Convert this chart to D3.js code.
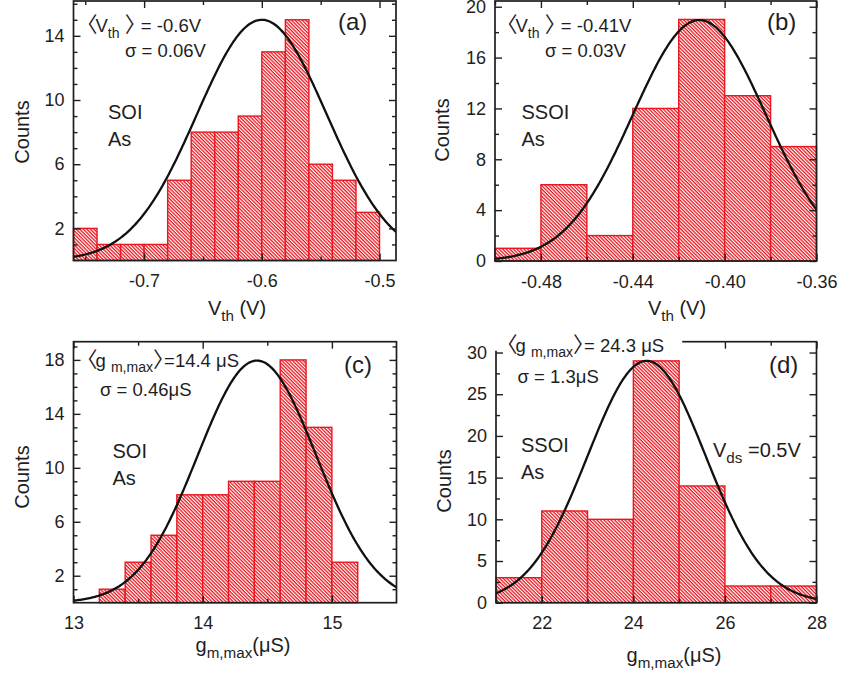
<!DOCTYPE html>
<html>
<head>
<meta charset="utf-8">
<script src="https://cdn.jsdelivr.net/npm/d3@7"></script>
<style>
  body { margin: 0; background: #fff; }
  svg { display: block; font-family: "Liberation Sans", Arial, "DejaVu Sans", sans-serif; }
</style>
</head>
<body>
<svg id="chart" width="845" height="676"></svg>
<script>
// ---- Histogram data: left bin edges and counts ----
const vthSoiBins   = [-0.76, -0.74, -0.72, -0.70, -0.68, -0.66, -0.64, -0.62, -0.60, -0.58, -0.56, -0.54, -0.52];
const vthSoiCounts = [2, 1, 1, 1, 5, 8, 8, 9, 13, 15, 6, 5, 3];
const vthSsoiBins   = [-0.50, -0.48, -0.46, -0.44, -0.42, -0.40, -0.38];
const vthSsoiCounts = [1, 6, 2, 12, 19, 13, 9];
const gmSoiBins   = [13.2, 13.4, 13.6, 13.8, 14.0, 14.2, 14.4, 14.6, 14.8, 15.0];
const gmSoiCounts = [1, 3, 5, 8, 8, 9, 9, 18, 13, 3];
const gmSsoiBins   = [21, 22, 23, 24, 25, 26, 27];
const gmSsoiCounts = [3, 11, 10, 29, 14, 2, 2];

// ---- Gaussian fits: [mean, sigma, peak count] ----
const vthSoiFit  = [-0.6, 0.0552, 15];
const vthSsoiFit = [-0.411, 0.029, 18.95];
const gmSoiFit   = [14.42, 0.46, 17.95];
const gmSsoiFit  = [24.29, 1.29, 29];

// ---- Tick values ----
const vthSoiXMajor  = [-0.7, -0.6, -0.5];
const vthSoiXMinor  = [-0.75, -0.65, -0.55];
const vthSoiYMajor  = [2, 6, 10, 14];
const vthSoiYMinor  = [1, 3, 4, 5, 7, 8, 9, 11, 12, 13, 15, 16];
const vthSsoiXMajor = [-0.48, -0.44, -0.40, -0.36];
const vthSsoiXMinor = [-0.50, -0.46, -0.42, -0.38];
const vthSsoiYMajor = [0, 4, 8, 12, 16, 20];
const vthSsoiYMinor = [2, 6, 10, 14, 18];
const gmSoiXMajor   = [13, 14, 15];
const gmSoiXMinor   = [13.5, 14.5];
const gmSoiYMajor   = [2, 6, 10, 14, 18];
const gmSoiYMinor   = [1, 3, 4, 5, 7, 8, 9, 11, 12, 13, 15, 16, 17, 19];
const gmSsoiXMajor  = [22, 24, 26, 28];
const gmSsoiXMinor  = [21, 23, 25, 27];
const gmSsoiYMajor  = [0, 5, 10, 15, 20, 25, 30];
const gmSsoiYMinor  = [2.5, 7.5, 12.5, 17.5, 22.5, 27.5];

const RED = "#e8161f";
const INK = "#1e1e1e";
const loc = d3.formatLocale({ decimal: ".", thousands: ",", grouping: [3], currency: ["", ""], minus: "-" });
const fmt = s => loc.format(s);

const svg = d3.select("#chart");
const defs = svg.append("defs");

// diagonal red hatching used to fill the bars
const pat = defs.append("pattern")
  .attr("id", "hatch")
  .attr("patternUnits", "userSpaceOnUse")
  .attr("width", 8).attr("height", 2.5)
  .attr("patternTransform", "rotate(45)");
pat.append("rect").attr("width", 8).attr("height", 2.5).attr("fill", "#fff");
pat.append("rect").attr("width", 8).attr("height", 1.3).attr("fill", RED);

// Text with subscripts and thin angle brackets.
// parts = [{t, sub, lb, rb}]; the full-width brackets get their advance trimmed with letter-spacing.
const BRACKET_SCALE = 1.15;
function rich(sel, parts, size) {
  let inSub = false;
  const bs = size * BRACKET_SCALE;
  parts.forEach(p => {
    const ts = sel.append("tspan").text(p.t);
    if (p.lb || p.rb) {
      ts.attr("font-size", bs)
        .attr("font-family", '"Noto Sans CJK JP", "Noto Sans CJK SC", sans-serif')
        .attr("letter-spacing", p.lb ? -bs * 0.1 : -bs * 0.48);
    }
    if (p.sub && !inSub) { ts.attr("font-size", size * 0.76).attr("dy", size * 0.3); inSub = true; }
    else if (p.sub) { ts.attr("font-size", size * 0.76); }
    else if (inSub) { ts.attr("dy", -size * 0.3); inSub = false; }
  });
  return sel;
}

function label(g, x, y, parts, size, anchor) {
  // a leading bracket carries blank space on its left; start the line that much earlier
  const lead = parts[0] && parts[0].lb ? size * BRACKET_SCALE * 0.55 : 0;
  const t = g.append("text")
    .attr("x", x - lead).attr("y", y)
    .attr("font-size", size)
    .attr("fill", INK)
    .attr("text-anchor", anchor || "start");
  return rich(t, parts, size);
}

const LB = "\u3008", RB = "\u3009";

const panels = [
  {
    id: "a", left: 73.5, right: 396, top: 1, bottom: 260.5,
    xDomain: [-0.76, -0.486], yDomain: [0, 16.17],
    bins: vthSoiBins, counts: vthSoiCounts, binWidth: 0.02, fit: vthSoiFit,
    xMajor: vthSoiXMajor, xMinor: vthSoiXMinor, yMajor: vthSoiYMajor, yMinor: vthSoiYMinor,
    xFmt: ".1f",
    meanParts: f => [{ t: LB, lb: true }, { t: "V" }, { t: "th", sub: true }, { t: " " }, { t: RB, rb: true }, { t: " = " + fmt(".1f")(f[0]) + "V" }],
    sigmaText: f => "\u03C3 = " + fmt(".2f")(f[1]) + "V",
    meanPos: [88, 32], sigmaPos: [125, 57], tagPos: [338, 30],
    matPos: [108, 119], mat: "SOI",
    xTitle: [{ t: "V" }, { t: "th", sub: true }, { t: " (V)" }], xTitlePos: [237, 315],
    yTitlePos: [28.5, 132]
  },
  {
    id: "b", left: 495, right: 816.5, top: 1, bottom: 261,
    xDomain: [-0.50, -0.36], yDomain: [0, 20.45],
    bins: vthSsoiBins, counts: vthSsoiCounts, binWidth: 0.02, fit: vthSsoiFit,
    xMajor: vthSsoiXMajor, xMinor: vthSsoiXMinor, yMajor: vthSsoiYMajor, yMinor: vthSsoiYMinor,
    xFmt: ".2f",
    meanParts: f => [{ t: LB, lb: true }, { t: "V" }, { t: "th", sub: true }, { t: " " }, { t: RB, rb: true }, { t: " = " + fmt(".2f")(f[0]) + "V" }],
    sigmaText: f => "\u03C3 = " + fmt(".2f")(f[1]) + "V",
    meanPos: [508, 32], sigmaPos: [545, 57], tagPos: [767, 30],
    matPos: [521.5, 119], mat: "SSOI",
    xTitle: [{ t: "V" }, { t: "th", sub: true }, { t: " (V)" }], xTitlePos: [677, 315],
    yTitlePos: [449, 130]
  },
  {
    id: "c", left: 73.5, right: 396.5, top: 341.7, bottom: 602.7,
    xDomain: [13, 15.5], yDomain: [0, 19.35],
    bins: gmSoiBins, counts: gmSoiCounts, binWidth: 0.2, fit: gmSoiFit,
    xMajor: gmSoiXMajor, xMinor: gmSoiXMinor, yMajor: gmSoiYMajor, yMinor: gmSoiYMinor,
    xFmt: "d",
    meanParts: f => [{ t: LB, lb: true }, { t: "g " }, { t: "m,max", sub: true }, { t: RB, rb: true }, { t: "=" + fmt(".1f")(f[0]) + " \u03BCS" }],
    sigmaText: f => "\u03C3 = " + fmt(".2f")(f[1]) + "\u03BCS",
    meanPos: [88, 366.5], sigmaPos: [100, 396], tagPos: [344, 372.5],
    matPos: [112.5, 458], mat: "SOI",
    xTitle: [{ t: "g" }, { t: "m,max", sub: true }, { t: "(\u03BCS)" }], xTitlePos: [243, 652],
    yTitlePos: [28.5, 477]
  },
  {
    id: "d", left: 496, right: 816.5, top: 341.7, bottom: 602.7,
    xDomain: [21, 28], yDomain: [0, 31.3],
    bins: gmSsoiBins, counts: gmSsoiCounts, binWidth: 1, fit: gmSsoiFit,
    xMajor: gmSsoiXMajor, xMinor: gmSsoiXMinor, yMajor: gmSsoiYMajor, yMinor: gmSsoiYMinor,
    xFmt: "d",
    meanParts: f => [{ t: LB, lb: true }, { t: "g " }, { t: "m,max", sub: true }, { t: RB, rb: true }, { t: "= " + fmt(".1f")(f[0]) + " \u03BCS" }],
    sigmaText: f => "\u03C3 = " + fmt(".1f")(f[1]) + "\u03BCS",
    meanPos: [508, 351.5], sigmaPos: [517.5, 382.5], tagPos: [769, 373],
    matPos: [521, 452], mat: "SSOI",
    xTitle: [{ t: "g" }, { t: "m,max", sub: true }, { t: "(\u03BCS)" }], xTitlePos: [674, 662],
    yTitlePos: [451, 481],
    labelBackdrop: true,
    extra: { parts: [{ t: "V" }, { t: "ds", sub: true }, { t: " =0.5V" }], pos: [713, 457] }
  }
];

function drawPanel(p) {
  const g = svg.append("g").attr("class", "panel-" + p.id);
  const x = d3.scaleLinear().domain(p.xDomain).range([p.left, p.right]);
  const y = d3.scaleLinear().domain(p.yDomain).range([p.bottom, p.top]);

  const clipId = "clip-" + p.id;
  defs.append("clipPath").attr("id", clipId)
    .append("rect")
    .attr("x", p.left).attr("y", p.top)
    .attr("width", p.right - p.left).attr("height", p.bottom - p.top);

  // histogram bars
  const bars = p.bins.map((b, i) => ({ x0: b, x1: b + p.binWidth, n: p.counts[i] }));
  g.append("g").selectAll("rect").data(bars).join("rect")
    .attr("x", d => x(d.x0))
    .attr("y", d => y(d.n))
    .attr("width", d => x(d.x1) - x(d.x0))
    .attr("height", d => y(0) - y(d.n))
    .attr("fill", "url(#hatch)")
    .attr("stroke", RED)
    .attr("stroke-width", 1.4);

  // Gaussian fit curve
  const [mu, sd, amp] = p.fit;
  const n = 240;
  const pts = d3.range(n + 1).map(i => {
    const xv = p.xDomain[0] + (p.xDomain[1] - p.xDomain[0]) * i / n;
    return [xv, amp * Math.exp(-((xv - mu) ** 2) / (2 * sd * sd))];
  });
  g.append("path")
    .datum(pts)
    .attr("clip-path", `url(#${clipId})`)
    .attr("fill", "none")
    .attr("stroke", "#111")
    .attr("stroke-width", 2.3)
    .attr("d", d3.line().x(d => x(d[0])).y(d => y(d[1])));

  // axes with inward ticks on all four sides
  const styleAxis = sel => {
    sel.select(".domain").remove();
    sel.selectAll(".tick line").attr("stroke", INK).attr("stroke-width", 1.4);
    sel.selectAll(".tick text").attr("fill", INK).attr("font-size", 18)
      .attr("font-family", '"Liberation Sans", Arial, sans-serif');
  };
  const add = (axis, tx, ty) => g.append("g").attr("transform", `translate(${tx},${ty})`).call(axis).call(styleAxis);

  add(d3.axisBottom(x).tickValues(p.xMajor).tickSizeInner(-7).tickSizeOuter(0).tickPadding(14).tickFormat(fmt(p.xFmt)), 0, p.bottom);
  add(d3.axisBottom(x).tickValues(p.xMinor).tickSizeInner(-4).tickSizeOuter(0).tickFormat(""), 0, p.bottom);
  add(d3.axisTop(x).tickValues(p.xMajor).tickSizeInner(-7).tickSizeOuter(0).tickFormat(""), 0, p.top);
  add(d3.axisTop(x).tickValues(p.xMinor).tickSizeInner(-4).tickSizeOuter(0).tickFormat(""), 0, p.top);
  add(d3.axisLeft(y).tickValues(p.yMajor).tickSizeInner(-7).tickSizeOuter(0).tickPadding(9).tickFormat(fmt("d")), p.left, 0);
  add(d3.axisLeft(y).tickValues(p.yMinor).tickSizeInner(-4).tickSizeOuter(0).tickFormat(""), p.left, 0);
  add(d3.axisRight(y).tickValues(p.yMajor).tickSizeInner(-7).tickSizeOuter(0).tickFormat(""), p.right, 0);
  add(d3.axisRight(y).tickValues(p.yMinor).tickSizeInner(-4).tickSizeOuter(0).tickFormat(""), p.right, 0);

  // frame
  g.append("rect")
    .attr("x", p.left).attr("y", p.top)
    .attr("width", p.right - p.left).attr("height", p.bottom - p.top)
    .attr("fill", "none").attr("stroke", INK).attr("stroke-width", 1.7);

  // annotations
  const mean = label(g, p.meanPos[0], p.meanPos[1], p.meanParts(p.fit), 18.5);
  if (p.labelBackdrop) {
    // white box behind the mean label hides the frame edge it sits on
    const bb = mean.node().getBBox();
    g.insert("rect", () => mean.node())
      .attr("x", p.left - 2).attr("y", p.top - 6)
      .attr("width", bb.x + bb.width + 18 - (p.left - 2))
      .attr("height", 15)
      .attr("fill", "#fff");
  }
  label(g, p.sigmaPos[0], p.sigmaPos[1], [{ t: p.sigmaText(p.fit) }], 18.5);
  label(g, p.tagPos[0], p.tagPos[1], [{ t: "(" + p.id + ")" }], 24);
  label(g, p.matPos[0], p.matPos[1], [{ t: p.mat }], 20);
  label(g, p.matPos[0], p.matPos[1] + 27, [{ t: "As" }], 20);
  if (p.extra) label(g, p.extra.pos[0], p.extra.pos[1], p.extra.parts, 20);

  // axis titles
  label(g, p.xTitlePos[0], p.xTitlePos[1], p.xTitle, 20, "middle");
  g.append("text")
    .attr("transform", `translate(${p.yTitlePos[0]},${p.yTitlePos[1]}) rotate(-90)`)
    .attr("text-anchor", "middle")
    .attr("font-size", 20)
    .attr("fill", INK)
    .text("Counts");
}

panels.forEach(drawPanel);
</script>
</body>
</html>
